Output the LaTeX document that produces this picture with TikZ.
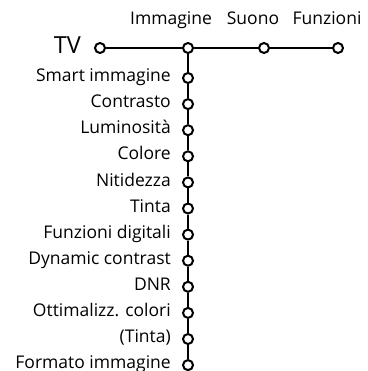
\documentclass[tikz,border=0pt]{standalone}
\usepackage{fontspec}
\setmainfont{Open Sans}
\begin{document}
\begin{tikzpicture}[x=1pt,y=-1pt,
  dot/.style={circle,draw=black,fill=white,line width=2pt,minimum size=10pt,inner sep=0pt},
  conn/.style={line width=2pt},
  lbl/.style={anchor=base east,inner sep=0pt,font=\fontsize{17.5}{19}\selectfont},
  toplbl/.style={anchor=base,inner sep=0pt,font=\fontsize{17.5}{19}\selectfont}]
\useasboundingbox (0,0) rectangle (367,371);
% top row
\node[dot] (tv) at (100,48) {};
\node[dot] (img) at (188,48) {};
\node[dot] (suo) at (264,48) {};
\node[dot] (fun) at (338,48) {};
\node[anchor=base east,inner sep=0pt,font=\fontsize{23.5}{25}\selectfont] (tvl) at (81,53.5) {TV};
\node[toplbl] (imgl) at (171,25) {Immagine};
\node[toplbl] (suol) at (253,25) {Suono};
\node[toplbl] (funl) at (327,25) {Funzioni};
% column
\foreach \i/\t in {1/Smart immagine,2/Contrasto,3/Luminosità,4/Colore,5/Nitidezza,6/Tinta,7/Funzioni digitali,8/Dynamic contrast,9/DNR,10/Ottimalizz. colori,11/(Tinta),12/Formato immagine}{
  \node[dot] (c\i) at (188,{78+26.1*(\i-1)}) {};
  \node[lbl] (l\i) at (171,{82+26.0*(\i-1)}) {\t};
}
\draw[conn] (tv) -- (img);
\draw[conn] (img) -- (suo);
\draw[conn] (suo) -- (fun);
\draw[conn] (img) -- (c1);
\foreach \a/\b in {1/2,2/3,3/4,4/5,5/6,6/7,7/8,8/9,9/10,10/11,11/12}{
  \draw[conn] (c\a) -- (c\b);
}
\end{tikzpicture}
\end{document}
